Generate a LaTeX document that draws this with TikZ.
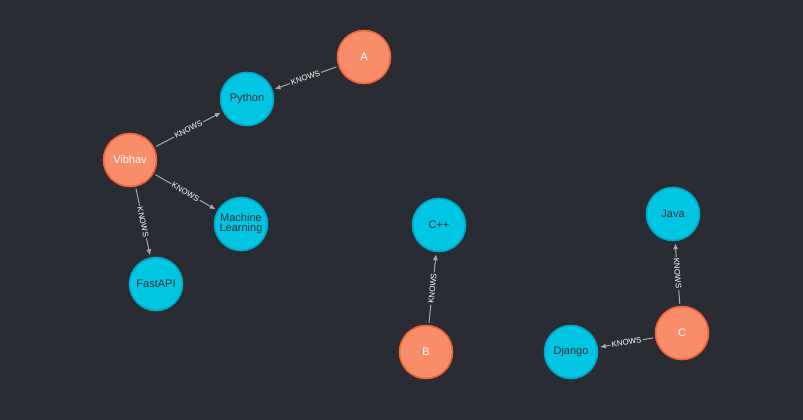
\documentclass[tikz,border=0pt]{standalone}
\usepackage{fontspec}
\setmainfont{Liberation Sans}
\usetikzlibrary{arrows.meta}
\definecolor{bg}{RGB}{41,44,51}
\definecolor{ofill}{RGB}{249,140,105}
\definecolor{oline}{RGB}{242,100,55}
\definecolor{bfill}{RGB}{0,197,227}
\definecolor{bline}{RGB}{0,168,200}
\definecolor{edge}{RGB}{165,171,182}
\tikzset{
  person/.style={circle,minimum size=53pt,inner sep=0pt,fill=ofill,draw=oline,line width=1.6pt,font=\fontsize{11}{12}\selectfont,text=white,align=center},
  skill/.style={circle,minimum size=53pt,inner sep=0pt,fill=bfill,draw=bline,line width=1.6pt,font=\fontsize{11}{12}\selectfont,text=black!80,align=center},
  rel/.style={draw=edge,line width=1pt,-{Latex[length=6pt,width=5pt]},shorten >=2pt,shorten <=2pt},
  lab/.style={midway,sloped,fill=bg,inner sep=1.2pt,text=white,font=\fontsize{8}{9}\selectfont}
}
\begin{document}
\begin{tikzpicture}[x=1pt,y=-1pt]
\fill[bg] (0,0) rectangle (803,420);
\node[person] (A) at (364,57) {A};
\node[skill] (Py) at (247,99) {Python};
\node[person] (V) at (130,160) {Vibhav};
\node[skill] (ML) at (241,224) {Machine\\[-2pt]Learning};
\node[skill] (F) at (156,284) {FastAPI};
\node[skill] (Cpp) at (439,225) {C++};
\node[person] (B) at (426,352) {B};
\node[skill] (J) at (673,214) {Java};
\node[person] (C) at (682,333) {C};
\node[skill] (D) at (571,352) {Django};
\draw[rel] (A) -- node[lab]{KNOWS} (Py);
\draw[rel] (V) -- node[lab]{KNOWS} (Py);
\draw[rel] (V) -- node[lab]{KNOWS} (ML);
\draw[rel] (V) -- node[lab]{KNOWS} (F);
\draw[rel] (B) -- node[lab]{KNOWS} (Cpp);
\draw[rel] (C) -- node[lab]{KNOWS} (J);
\draw[rel] (C) -- node[lab]{KNOWS} (D);
\end{tikzpicture}
\end{document}
